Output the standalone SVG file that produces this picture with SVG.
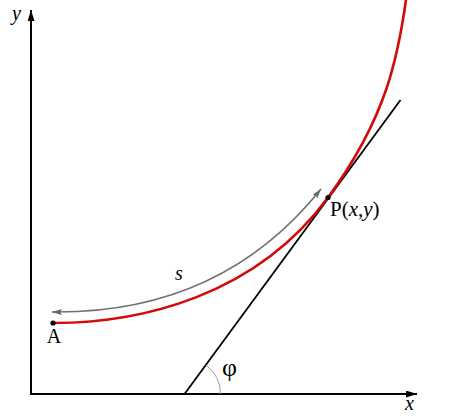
<svg xmlns="http://www.w3.org/2000/svg" width="474" height="419" viewBox="0 0 474 419">
<style>
.t{font-family:"Liberation Serif","Times New Roman",serif;fill:#000}
.it{font-style:italic}
.ax{stroke:#000;stroke-width:2;fill:none}
</style>
<defs>
<marker id="ah" markerUnits="userSpaceOnUse" markerWidth="12" markerHeight="8" refX="11" refY="3.5" orient="auto">
<path d="M0,0 L11,3.5 L0,7 z" fill="#000"/>
</marker>
<marker id="gh" markerUnits="userSpaceOnUse" markerWidth="12" markerHeight="8" refX="10" refY="3" orient="auto-start-reverse">
<path d="M0,0 L10,3 L0,6 L2,3 z" fill="#666"/>
</marker>
</defs>
<rect width="474" height="419" fill="#fff"/>
<g id="axes">
<line class="ax" x1="31" y1="394" x2="31" y2="10" marker-end="url(#ah)"/>
<line class="ax" x1="30" y1="394" x2="417" y2="394" marker-end="url(#ah)"/>
<text class="t it" x="12" y="20" font-size="20">y</text>
<text class="t it" x="405" y="410" font-size="20">x</text>
</g>
<g id="connectors">
<line x1="184.5" y1="394" x2="400.5" y2="100" stroke="#000" stroke-width="1.8"/>
<path d="M220.5,394 A36,36 0 0 0 205.8,365" fill="none" stroke="#999" stroke-width="1"/>
<path d="M52,312 C140,313 241,289 321,189" fill="none" stroke="#707070" stroke-width="1.6" marker-start="url(#gh)" marker-end="url(#gh)"/>
</g>
<g id="curve">
<path d="M53,323 C140,323 255.3,296.5 328,197.5 C386.8,117.5 398.5,56 406.8,-6" fill="none" stroke="#d10a0a" stroke-width="2.6"/>
</g>
<g id="pointA">
<circle cx="53" cy="323" r="2.6" fill="#000"/>
<text class="t" x="54" y="343" font-size="20" text-anchor="middle">A</text>
</g>
<g id="pointP">
<circle cx="328" cy="197.5" r="2.6" fill="#000"/>
<text class="t" x="330" y="216" font-size="21">P(<tspan class="it">x</tspan>,<tspan class="it">y</tspan>)</text>
</g>
<g id="labels">
<text class="t it" x="175" y="280" font-size="20">s</text>
<text class="t" x="222" y="376" font-size="26">φ</text>
</g>
</svg>
